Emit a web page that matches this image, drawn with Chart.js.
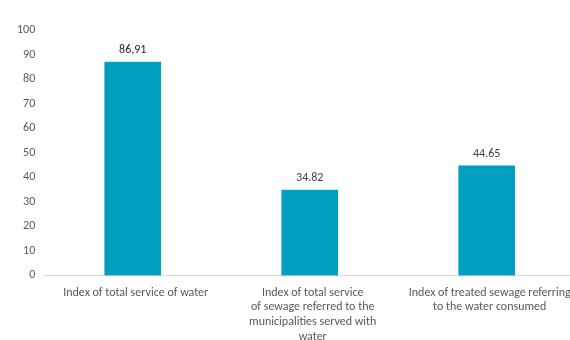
<!DOCTYPE html>
<html>
<head>
<meta charset="utf-8">
<script src="https://cdn.jsdelivr.net/npm/chart.js@4/dist/chart.umd.min.js"></script>
<style>
  html, body { margin: 0; padding: 0; background: #fff; overflow: hidden; }
  .chart-container { position: relative; width: 578px; height: 340px; }
</style>
</head>
<body>
<div class="chart-container">
  <canvas id="chart"></canvas>
</div>
<script>
// Categories (wrapped like the original)
const categories = [
  ['Index of total service of water'],
  ['Index of total service', 'of sewage referred to the', 'municipalities served with', 'water'],
  ['Index of treated sewage referring', 'to the water consumed'],
];

// Values and the labels shown above the bars
const values = [86.91, 34.82, 44.65];
const valueLabels = ['86,91', '34.82', '44.65'];

// Y axis
const yMin = 0;
const yMax = 100;
const yStep = 10;

const FONT = 'Carlito, "Noto Sans", sans-serif';

// Draw value labels above each bar
const barLabels = {
  id: 'barLabels',
  afterDatasetsDraw(chart) {
    const ctx = chart.ctx;
    const meta = chart.getDatasetMeta(0);
    ctx.save();
    ctx.font = '12px ' + FONT;
    ctx.textAlign = 'center';
    ctx.textBaseline = 'bottom';
    meta.data.forEach((bar, i) => {
      ctx.fillStyle = i === 0 ? '#262626' : '#404040';
      ctx.fillText(valueLabels[i], bar.x, bar.y - 6);
    });
    ctx.restore();
  }
};

const data = {
  labels: categories,
  datasets: [{
    data: values,
    backgroundColor: '#009fbf',
    borderWidth: 0,
    barThickness: 56,
  }]
};

const config = {
  type: 'bar',
  data: data,
  plugins: [barLabels],
  options: {
    responsive: true,
    maintainAspectRatio: false,
    animation: false,
    layout: { padding: { top: 30, left: 8, right: 2, bottom: -14 } },
    plugins: {
      legend: { display: false },
      tooltip: { enabled: false },
    },
    scales: {
      x: {
        grid: { display: false, drawTicks: false, tickLength: 0 },
        border: { display: true, color: '#d9d9d9', width: 1 },
        ticks: {
          color: '#595959',
          font: { family: FONT, size: 12, lineHeight: 1.22 },
          padding: 10,
          maxRotation: 0,
          autoSkip: false,
          labelOffset: 3,
        },
      },
      y: {
        min: yMin,
        max: yMax,
        grid: { display: false, drawTicks: false },
        border: { display: false },
        ticks: {
          stepSize: yStep,
          color: '#595959',
          font: { family: FONT, size: 12 },
          padding: 9,
        },
      },
    },
  },
};

new Chart(document.getElementById('chart').getContext('2d'), config);
</script>
</body>
</html>
